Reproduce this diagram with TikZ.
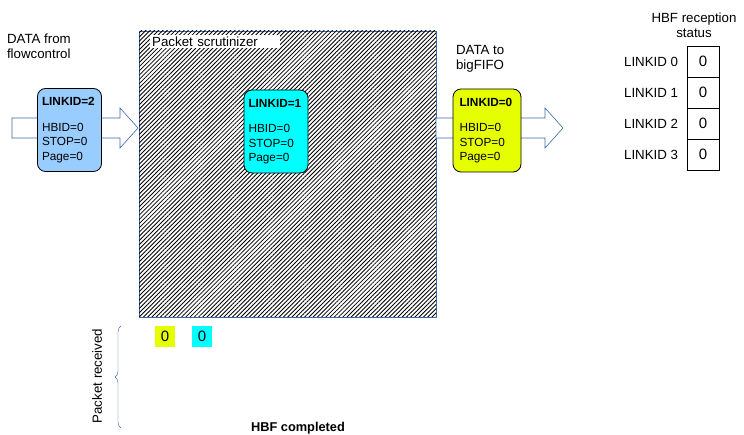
\documentclass[tikz,border=0pt]{standalone}
\usepackage{fontspec}
\setmainfont{Liberation Sans}
\usetikzlibrary{positioning,patterns.meta,decorations.pathreplacing}
\definecolor{frameblue}{RGB}{62,104,168}
\definecolor{pktblue}{RGB}{153,204,255}
\definecolor{pktcyan}{RGB}{0,255,255}
\definecolor{pktyellow}{RGB}{230,255,0}

\begin{document}
\begin{tikzpicture}[x=1pt,y=-1pt,
    pktnode/.style={draw=black,thick,rounded corners=8pt,minimum width=64pt,minimum height=83pt,text width=55pt,align=left,font=\fontsize{11.8}{14.5}\selectfont},
    blockarrow/.style={draw=frameblue,fill=white,semithick},
    cell/.style={draw=black,thick,minimum width=32pt,minimum height=31pt,inner sep=0pt,font=\fontsize{15}{17}\selectfont},
    txt/.style={font=\fontsize{13.3}{15}\selectfont,align=left},
    flag/.style={minimum width=20pt,minimum height=21pt,inner sep=0pt,font=\fontsize{15}{17}\selectfont}]
        \useasboundingbox (0,0) rectangle (744,435);

        % scrutinizer box
        \draw[draw=frameblue,semithick,fill=white,postaction={pattern={Lines[angle=45,distance=3pt,line width=0.85pt]}}] (139,31) rectangle (436,317);
        \node[fill=white,anchor=north west,text width=126pt,inner xsep=2pt,inner ysep=1.5pt,txt] (scrlabel) at (150,35) {Packet scrutinizer};

        % block arrows
        \draw[blockarrow] (12,118) -- (120,118) -- (120,108) -- (138,128) -- (120,148) -- (120,138) -- (12,138) -- cycle;
        \draw[blockarrow] (436,118) -- (545,118) -- (545,108) -- (563,128) -- (545,148) -- (545,138) -- (436,138) -- cycle;

        \node[txt,anchor=west] (datain) at (3.5,46.5) {DATA from\\flowcontrol};
        \node[txt,anchor=west] (dataout) at (452.5,58.5) {DATA to\\bigFIFO};

        \node[pktnode,fill=pktblue] (pkt2) at (69.5,130) {\textbf{LINKID=2}\\[11pt]HBID=0\\STOP=0\\Page=0};
        \node[pktnode,fill=pktcyan] (pkt1) at (276,131.5) {\textbf{LINKID=1}\\[11pt]HBID=0\\STOP=0\\Page=0};
        \node[pktnode,fill=pktyellow,minimum width=68pt] (pkt0) at (487,130.5) {\textbf{LINKID=0}\\[11pt]HBID=0\\STOP=0\\Page=0};

        % reception status
        \node[txt,align=center] (status) at (694,25) {HBF reception\\status};
        \foreach \i in {0,...,3} {
            \node[cell] (s\i) at (703,61.5+31*\i) {0};
            \node[txt,left=5pt of s\i] (l\i) {LINKID \i};
        }

        % received packets
        \node[flag,fill=pktyellow] (r0) at (165,336.5) {0};
        \node[flag,fill=pktcyan] (r1) at (202,336.5) {0};
        \node[txt,rotate=90] (recv) at (97,376) {Packet received};
        \draw[frameblue,decorate,decoration={brace,amplitude=6pt}] (121,428) -- (121,326);
        \node[font=\fontsize{12.8}{15}\selectfont\bfseries] (done) at (298,428) {HBF completed};
    \end{tikzpicture}
\end{document}
